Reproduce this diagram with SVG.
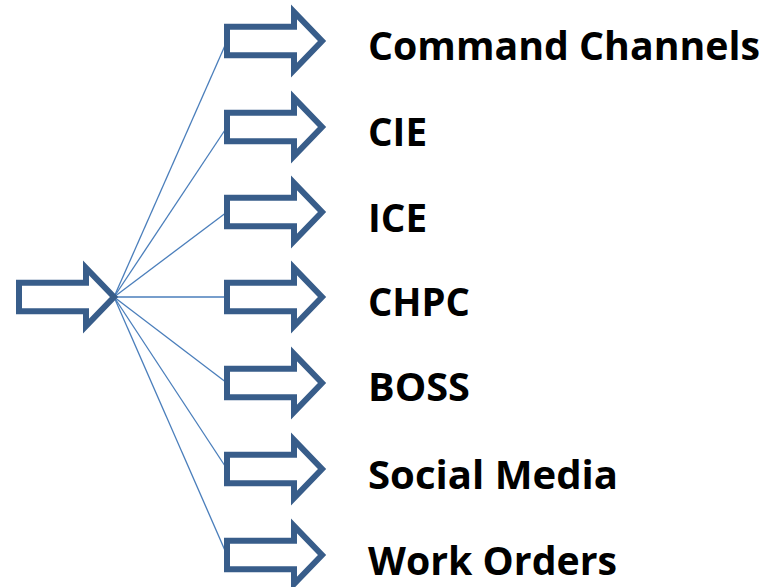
<svg xmlns="http://www.w3.org/2000/svg" width="784" height="587" viewBox="0 0 784 587">
<defs>
<style>
.arr{fill:#ffffff;stroke:#385d8a;stroke-width:6;stroke-linejoin:miter;stroke-miterlimit:10}
.ln{stroke:#4a7ebb;stroke-width:1.3;fill:none}
.lbl{font-family:"Open Sans","Liberation Sans",sans-serif;font-weight:bold;font-size:39px;fill:#000000}
</style>
<path id="ra" d="M0,-14.3 L67,-14.3 L67,-29 L95,0 L67,29 L67,14.3 L0,14.3 Z"/>
</defs>
<rect width="784" height="587" fill="#ffffff"/>
<g id="connectors">
<line class="ln" x1="114" y1="297" x2="227" y2="41"/>
<line class="ln" x1="114" y1="297" x2="227" y2="127"/>
<line class="ln" x1="114" y1="297" x2="227" y2="212"/>
<line class="ln" x1="114" y1="297" x2="227" y2="297"/>
<line class="ln" x1="114" y1="297" x2="227" y2="383"/>
<line class="ln" x1="114" y1="297" x2="227" y2="469"/>
<line class="ln" x1="114" y1="297" x2="227" y2="555"/>
</g>
<g id="source"><use href="#ra" class="arr" transform="translate(19,297)"/></g>
<g id="n1"><use href="#ra" class="arr" transform="translate(227,41)"/><text class="lbl" x="368" y="60" textLength="392" lengthAdjust="spacingAndGlyphs">Command Channels</text></g>
<g id="n2"><use href="#ra" class="arr" transform="translate(227,127)"/><text class="lbl" x="368" y="146" textLength="59" lengthAdjust="spacingAndGlyphs">CIE</text></g>
<g id="n3"><use href="#ra" class="arr" transform="translate(227,212)"/><text class="lbl" x="368" y="232" textLength="59" lengthAdjust="spacingAndGlyphs">ICE</text></g>
<g id="n4"><use href="#ra" class="arr" transform="translate(227,297)"/><text class="lbl" x="368" y="316" textLength="102" lengthAdjust="spacingAndGlyphs">CHPC</text></g>
<g id="n5"><use href="#ra" class="arr" transform="translate(227,383)"/><text class="lbl" x="368" y="401" textLength="102" lengthAdjust="spacingAndGlyphs">BOSS</text></g>
<g id="n6"><use href="#ra" class="arr" transform="translate(227,469)"/><text class="lbl" x="368" y="489" textLength="250" lengthAdjust="spacingAndGlyphs">Social Media</text></g>
<g id="n7"><use href="#ra" class="arr" transform="translate(227,555)"/><text class="lbl" x="368" y="575" textLength="249" lengthAdjust="spacingAndGlyphs">Work Orders</text></g>
</svg>
